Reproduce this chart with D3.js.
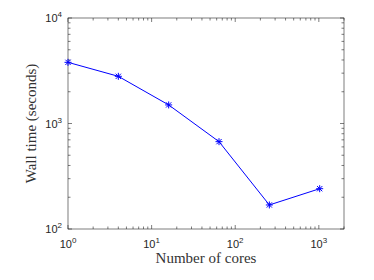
<!DOCTYPE html>
<html lang="en">
<head>
<meta charset="UTF-8">
<title>Wall time</title>
<script src="https://cdn.jsdelivr.net/npm/d3@7"></script>
<style>
  body{ margin:0; padding:0; background:#fff; }
  .axis line, .axis path{ stroke:#262626; stroke-width:0.6; }
  .tick-label{ font-family:"Liberation Sans", Arial, sans-serif; font-size:11px; fill:#262626; }
  .label{ font-family:"Liberation Serif", "DejaVu Serif", serif; font-size:15px; fill:#333; }
  .line{ fill:none; stroke:#0000ff; stroke-width:1; }
  .marker line{ stroke:#0000ff; stroke-width:1; }
</style>
</head>
<body>
<div id="chart"></div>
<script>
// data
let cores = [1, 4, 16, 64, 256, 1024];
let wallTime = [3800, 2800, 1500, 673, 169, 241];
let xDecades = [0, 1, 2, 3];
let yDecades = [2, 3, 4];

let W = 374, H = 280;
let margin = {top: 18, right: 30, bottom: 51, left: 68},
    width = W - margin.left - margin.right,
    height = H - margin.top - margin.bottom;

let svg = d3.select("#chart").append("svg")
    .attr("width", W).attr("height", H)
  .append("g")
    .attr("transform", "translate(" + margin.left + "," + margin.top + ")");

let x = d3.scaleLog().domain([1, 2000]).range([0, width]);
let y = d3.scaleLog().domain([100, 10000]).range([height, 0]);

// minor tick values
function minors(lo, hi){
  let out = [];
  for (let e = Math.floor(Math.log10(lo)); e <= Math.ceil(Math.log10(hi)); e++)
    for (let m = 1; m < 10; m++){
      let v = m * Math.pow(10, e);
      if (v >= lo && v <= hi) out.push(v);
    }
  return out;
}
let xTicks = minors(1, 2000), yTicks = minors(100, 10000);
function isMajor(v){ return Math.abs(Math.log10(v) - Math.round(Math.log10(v))) < 1e-9; }

let ax = svg.append("g").attr("class", "axis");

// box
ax.append("rect").attr("x", 0).attr("y", 0).attr("width", width).attr("height", height)
  .attr("fill", "none").attr("stroke", "#262626").attr("stroke-width", 0.6);

// inward ticks, bottom/top
xTicks.forEach(function(v){
  let len = isMajor(v) ? 4 : 2.5;
  ax.append("line").attr("x1", x(v)).attr("x2", x(v)).attr("y1", height).attr("y2", height - len);
  ax.append("line").attr("x1", x(v)).attr("x2", x(v)).attr("y1", 0).attr("y2", len);
});
yTicks.forEach(function(v){
  let len = isMajor(v) ? 4 : 2.5;
  ax.append("line").attr("y1", y(v)).attr("y2", y(v)).attr("x1", 0).attr("x2", len);
  ax.append("line").attr("y1", y(v)).attr("y2", y(v)).attr("x1", width).attr("x2", width - len);
});

// tick labels 10^n
xDecades.forEach(function(e){
  let t = svg.append("text").attr("class", "tick-label")
    .attr("x", x(Math.pow(10, e))).attr("y", height + 19)
    .attr("text-anchor", "middle");
  t.append("tspan").text("10");
  t.append("tspan").attr("dy", -5).attr("font-size", "8px").text(e);
});
yDecades.forEach(function(e){
  let t = svg.append("text").attr("class", "tick-label")
    .attr("x", -6).attr("y", y(Math.pow(10, e)) + 4)
    .attr("text-anchor", "end");
  t.append("tspan").text("10");
  t.append("tspan").attr("dy", -5).attr("font-size", "8px").text(e);
});

// axis labels
svg.append("text").attr("class", "label")
  .attr("x", width / 2).attr("y", height + 34)
  .attr("text-anchor", "middle").text("Number of cores");
svg.append("text").attr("class", "label")
  .attr("transform", "translate(-32," + (height / 2) + ") rotate(-90)")
  .attr("text-anchor", "middle").text("Wall time (seconds)");

let data = cores.map(function(c, i){ return {c: c, t: wallTime[i]}; });

svg.append("path").datum(data).attr("class", "line")
  .attr("d", d3.line().x(function(d){ return x(d.c); }).y(function(d){ return y(d.t); }));

// asterisk markers
let r = 3.5;
let mk = svg.selectAll(".marker").data(data).enter().append("g")
  .attr("class", "marker")
  .attr("transform", function(d){ return "translate(" + x(d.c) + "," + y(d.t) + ")"; });
mk.append("line").attr("x1", -r).attr("x2", r).attr("y1", 0).attr("y2", 0);
mk.append("line").attr("x1", 0).attr("x2", 0).attr("y1", -r).attr("y2", r);
mk.append("line").attr("x1", -r * 0.75).attr("x2", r * 0.75).attr("y1", -r * 0.75).attr("y2", r * 0.75);
mk.append("line").attr("x1", -r * 0.75).attr("x2", r * 0.75).attr("y1", r * 0.75).attr("y2", -r * 0.75);
</script>
</body>
</html>
